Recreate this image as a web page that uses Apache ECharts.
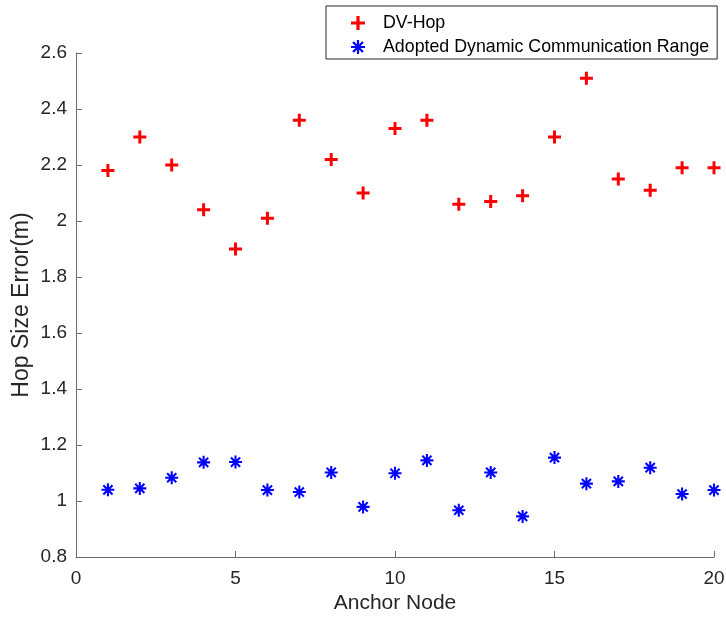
<!DOCTYPE html>
<html>
<head>
<meta charset="utf-8">
<script src="https://cdn.jsdelivr.net/npm/echarts@6/dist/echarts.min.js"></script>
<style>
  html, body { margin: 0; padding: 0; background: #fff; }
  #chart { width: 726px; height: 618px; }
</style>
</head>
<body>
<div id="chart"></div>
<script>
// Anchor node indices and the hop size error of each method
const anchorNodes = [1, 2, 3, 4, 5, 6, 7, 8, 9, 10, 11, 12, 13, 14, 15, 16, 17, 18, 19, 20];
const dvHopError = [2.18, 2.30, 2.20, 2.04, 1.90, 2.01, 2.36, 2.22, 2.10, 2.33,
                    2.36, 2.06, 2.07, 2.09, 2.30, 2.51, 2.15, 2.11, 2.19, 2.19];
const adoptedRangeError = [1.04, 1.045, 1.083, 1.138, 1.139, 1.039, 1.032, 1.102, 0.979, 1.099,
                           1.145, 0.967, 1.102, 0.945, 1.155, 1.062, 1.070, 1.119, 1.025, 1.039];
const seriesNames = ['DV-Hop', 'Adopted Dynamic Communication Range'];
const xTicks = { min: 0, max: 20, step: 5 };
const yTicks = { min: 0.8, max: 2.6, step: 0.2 };

// Marker shapes: a thick plus and an eight-ray asterisk
const plusPath = 'path://M3.85,0H6.15V3.85H10V6.15H6.15V10H3.85V6.15H0V3.85H3.85Z';
const starPath = 'path://M0,8.4H20V11.6H0Z M8.4,0H11.6V20H8.4Z ' +
  'M1.8,4.06L4.06,1.8L18.2,15.94L15.94,18.2Z ' +
  'M15.94,1.8L18.2,4.06L4.06,18.2L1.8,15.94Z';

const pairs = vals => anchorNodes.map((x, i) => [x, vals[i]]);

const axisColor = '#6b6b6b';
const textColor = '#262626';
const font = 'Liberation Sans, Arial, Helvetica, sans-serif';

const chart = echarts.init(document.getElementById('chart'), null, { renderer: 'canvas' });
chart.setOption({
  backgroundColor: '#ffffff',
  animation: false,
  textStyle: { fontFamily: font },
  grid: { left: 76, right: 12, top: 53, bottom: 61, containLabel: false, outerBoundsMode: 'none' },
  legend: {
    orient: 'vertical',
    left: 326,
    top: 6,
    padding: [8, 8, 3, 25],
    itemWidth: 14,
    itemHeight: 14,
    itemGap: 6,
    backgroundColor: '#ffffff',
    borderColor: '#262626',
    borderWidth: 1,
    borderRadius: 0,
    textStyle: { fontSize: 17.8, color: '#000', fontFamily: font, padding: [0, 0, 0, 13] },
    data: [
      { name: seriesNames[0], icon: plusPath },
      { name: seriesNames[1], icon: starPath }
    ]
  },
  xAxis: {
    type: 'value',
    min: xTicks.min,
    max: xTicks.max,
    interval: xTicks.step,
    name: 'Anchor Node',
    nameLocation: 'middle',
    nameGap: 36,
    nameMoveOverlap: false,
    nameTextStyle: { fontSize: 21, color: textColor, fontFamily: font },
    axisLine: { show: true, onZero: false, lineStyle: { color: axisColor, width: 1 } },
    axisTick: { show: true, inside: true, length: 6, lineStyle: { color: axisColor } },
    axisLabel: { fontSize: 19, color: textColor, margin: 12, fontFamily: font },
    splitLine: { show: false }
  },
  yAxis: {
    type: 'value',
    min: yTicks.min,
    max: yTicks.max,
    interval: yTicks.step,
    name: 'Hop Size Error(m)',
    nameLocation: 'middle',
    nameGap: 43,
    nameMoveOverlap: false,
    nameTextStyle: { fontSize: 23, color: textColor, fontFamily: font },
    axisLine: { show: true, onZero: false, lineStyle: { color: axisColor, width: 1 } },
    axisTick: { show: true, inside: true, length: 6, lineStyle: { color: axisColor } },
    axisLabel: {
      fontSize: 19, color: textColor, margin: 9, fontFamily: font,
      formatter: v => String(+v.toFixed(1))
    },
    splitLine: { show: false }
  },
  series: [
    {
      name: seriesNames[0],
      type: 'scatter',
      symbol: plusPath,
      symbolSize: 13,
      itemStyle: { color: '#ff0000', opacity: 1 },
      data: pairs(dvHopError)
    },
    {
      name: seriesNames[1],
      type: 'scatter',
      symbol: starPath,
      symbolSize: 13,
      itemStyle: { color: '#0000ff', opacity: 1 },
      data: pairs(adoptedRangeError)
    }
  ]
});
</script>
</body>
</html>
